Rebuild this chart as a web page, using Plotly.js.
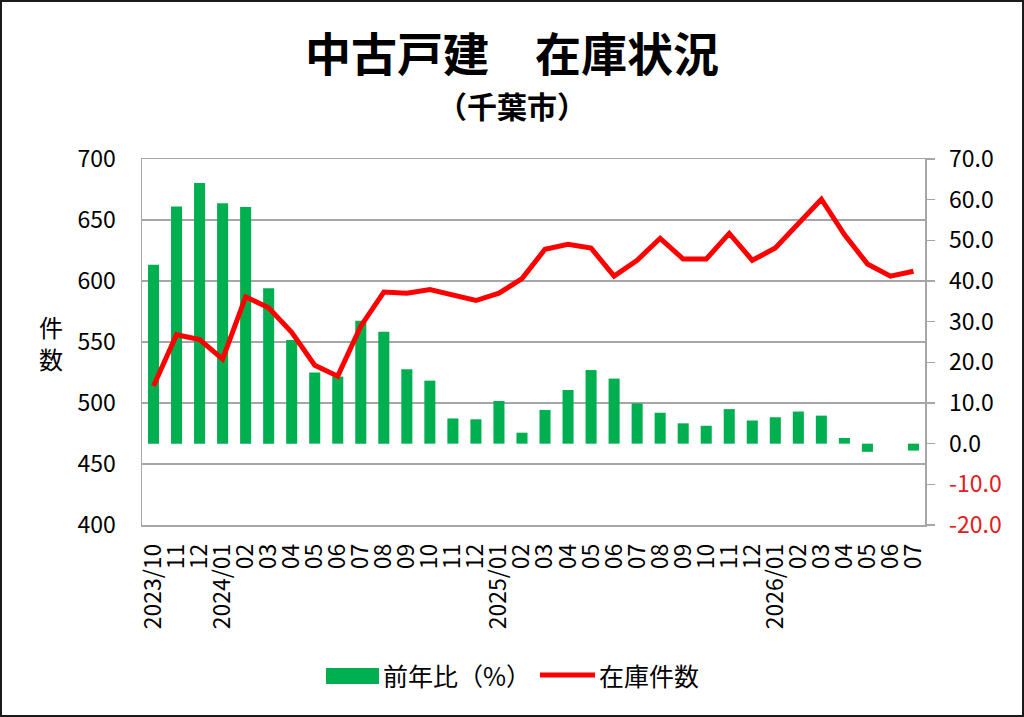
<!DOCTYPE html>
<html>
<head>
<meta charset="utf-8">
<script src="https://cdn.plot.ly/plotly-3.0.1.min.js"></script>
<style>
  html, body { margin: 0; padding: 0; background: #fff; }
  #frame { position: absolute; left: 0; top: 0; width: 1024px; height: 717px; box-sizing: border-box; border: 2px solid #1a1a1a; }
  #chart { width: 1020px; height: 713px; }
</style>
</head>
<body>
<div id="frame"><div id="chart"></div></div>
<script>
// ---- data ----
const months = [
  "2023/10","2023/11","2023/12",
  "2024/01","2024/02","2024/03","2024/04","2024/05","2024/06","2024/07","2024/08","2024/09","2024/10","2024/11","2024/12",
  "2025/01","2025/02","2025/03","2025/04","2025/05","2025/06","2025/07","2025/08","2025/09","2025/10","2025/11","2025/12",
  "2026/01","2026/02","2026/03","2026/04","2026/05","2026/06","2026/07"
];
const tickLabels = [
  "2023/10","11","12",
  "2024/01","02","03","04","05","06","07","08","09","10","11","12",
  "2025/01","02","03","04","05","06","07","08","09","10","11","12",
  "2026/01","02","03","04","05","06","07"
];
// 前年比(%) — right axis
const yoyPct = [44.0,58.3,64.1,59.1,58.2,38.2,25.5,17.5,16.5,30.2,27.5,18.3,15.5,6.2,6.0,10.5,2.7,8.3,13.2,18.1,16.0,9.9,7.6,5.0,4.4,8.5,5.7,6.5,7.9,6.9,1.4,-2.0,0,-1.7];
// 在庫件数 — left axis
const stockCount = [514,556,552,536,587,578,558,531,522,563,591,590,593,589,584,590,602,626,630,627,604,617,635,618,618,639,617,627,647,667,638,614,604,608];
// axis ticks
const leftTicks = [400,450,500,550,600,650,700];
const rightTicks = [-20,-10,0,10,20,30,40,50,60,70];
const seriesNames = ['前年比（%）', '在庫件数'];
const yTitleChars = ['件', '数'];

const FONT = '"Noto Sans CJK JP", "Noto Sans", sans-serif';
const GRID = '#a6a6a6';
const BAR_COLOR = '#00b050';
const LINE_COLOR = '#ff0000';

// page pixel -> paper coordinate helpers (plot area: x 142..925, y 159..525 on the page)
const PX = x => (x - 142) / 783;
const PY = y => (525 - y) / 366;

const rightTickText = rightTicks.map(v => v < 0
  ? '<span style="color:#e02020">' + v.toFixed(1) + '</span>'
  : v.toFixed(1));

const traces = [
  {
    type: 'bar', name: seriesNames[0], x: months, y: yoyPct,
    xaxis: 'x', yaxis: 'y',
    marker: { color: BAR_COLOR },
    hoverinfo: 'x+y'
  },
  {
    type: 'scatter', mode: 'lines', name: seriesNames[1], x: months, y: stockCount,
    xaxis: 'x', yaxis: 'y2',
    line: { color: LINE_COLOR, width: 5 },
    hoverinfo: 'x+y'
  }
];

const layout = {
  width: 1020, height: 713,
  margin: { l: 140, r: 97, t: 157, b: 190 },
  paper_bgcolor: '#ffffff', plot_bgcolor: '#ffffff',
  font: { family: FONT, color: '#000', size: 23 },
  bargap: 0.52,
  showlegend: false,
  title: {
    text: '中古戸建　在庫状況',
    font: { family: FONT, size: 46, weight: 'bold', color: '#000' },
    x: 0.5, xref: 'container', xanchor: 'center',
    y: 1 - 53/713, yref: 'container', yanchor: 'middle'
  },
  xaxis: {
    type: 'category',
    tickmode: 'array', tickvals: months, ticktext: tickLabels,
    tickangle: -90,
    tickfont: { family: FONT, size: 23, color: '#000' },
    showline: true, linecolor: GRID, linewidth: 1.5, mirror: true,
    ticks: '', showgrid: false, zeroline: false,
    ticklabelstandoff: 8,
    range: [-0.5, months.length - 0.5]
  },
  yaxis: {
    side: 'right',
    range: [-20, 70],
    tickmode: 'array', tickvals: rightTicks, ticktext: rightTickText,
    tickfont: { family: FONT, size: 23, color: '#000' },
    showline: true, linecolor: GRID, linewidth: 1.5,
    ticks: 'outside', ticklen: 8, tickcolor: GRID, tickwidth: 1.5,
    ticklabelstandoff: 10,
    showgrid: false, zeroline: false
  },
  yaxis2: {
    overlaying: 'y', side: 'left',
    range: [400, 700],
    tickmode: 'array', tickvals: leftTicks,
    tickfont: { family: FONT, size: 23, color: '#000' },
    showline: true, linecolor: GRID, linewidth: 1.5,
    ticks: '', ticklabelstandoff: 20,
    showgrid: true, gridcolor: GRID, gridwidth: 1.5,
    zeroline: false
  },
  shapes: [
    // legend swatches
    { type: 'rect', xref: 'paper', yref: 'paper',
      x0: PX(326), x1: PX(379), y0: PY(668), y1: PY(684),
      fillcolor: BAR_COLOR, line: { width: 0 } },
    { type: 'line', xref: 'paper', yref: 'paper',
      x0: PX(540), x1: PX(595), y0: PY(675), y1: PY(675),
      line: { color: LINE_COLOR, width: 5 } }
  ],
  annotations: [
    {
      text: '（千葉市）', showarrow: false,
      xref: 'paper', yref: 'paper',
      x: PX(512), y: PY(105),
      xanchor: 'center', yanchor: 'middle',
      font: { family: FONT, size: 30, weight: 'bold', color: '#000' }
    },
    {
      text: yTitleChars[0], showarrow: false,
      xref: 'paper', yref: 'paper',
      x: PX(51), y: PY(326),
      xanchor: 'center', yanchor: 'middle',
      font: { family: FONT, size: 24, color: '#000' }
    },
    {
      text: yTitleChars[1], showarrow: false,
      xref: 'paper', yref: 'paper',
      x: PX(51), y: PY(358),
      xanchor: 'center', yanchor: 'middle',
      font: { family: FONT, size: 24, color: '#000' }
    },
    {
      text: seriesNames[0], showarrow: false,
      xref: 'paper', yref: 'paper',
      x: PX(381), y: PY(675),
      xanchor: 'left', yanchor: 'middle',
      font: { family: FONT, size: 25, color: '#000' }
    },
    {
      text: seriesNames[1], showarrow: false,
      xref: 'paper', yref: 'paper',
      x: PX(597), y: PY(675),
      xanchor: 'left', yanchor: 'middle',
      font: { family: FONT, size: 25, color: '#000' }
    }
  ]
};

Plotly.newPlot('chart', traces, layout, { displayModeBar: false, staticPlot: true });
</script>
</body>
</html>
